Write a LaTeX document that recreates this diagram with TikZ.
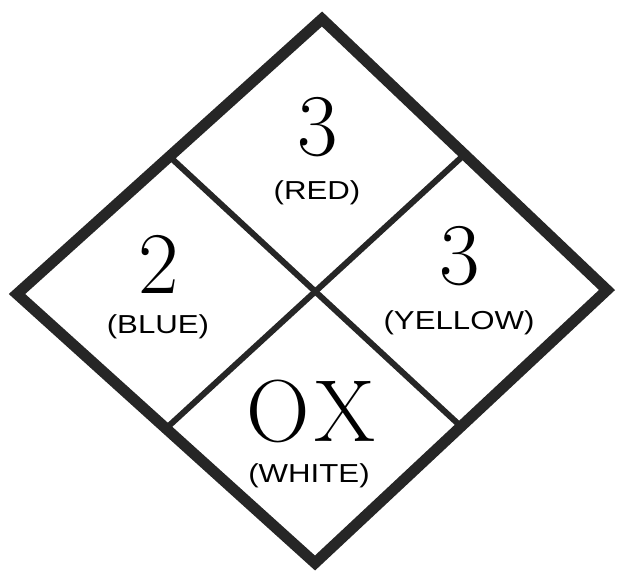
\documentclass[tikz,border=0pt]{standalone}
\usepackage{fontspec}
\usetikzlibrary{calc}
\newfontfamily\labfont[FakeStretch=1.2]{Liberation Sans}
\tikzset{
  outerline/.style={line width=11pt, draw=black!85, line join=miter},
  innerline/.style={line width=6pt, draw=black!85, line cap=butt},
  bignum/.style={inner sep=0pt, font=\fontsize{88}{88}\selectfont},
  colourlab/.style={inner sep=0pt, font=\labfont\fontsize{26}{26}\selectfont}
}
\begin{document}
\begin{tikzpicture}[x=1pt,y=-1pt]
\useasboundingbox (0,0) rectangle (618,576);
\coordinate (T) at (322,19);
\coordinate (L) at (17,294);
\coordinate (R) at (607,290);
\coordinate (B) at (315,563);
\coordinate (TL) at ($(T)!0.5!(L)$);
\coordinate (TR) at ($(T)!0.5!(R)$);
\coordinate (BL) at ($(B)!0.5!(L)$);
\coordinate (BR) at ($(B)!0.5!(R)$);
\draw[innerline] (TL) -- (BR);
\draw[innerline] (TR) -- (BL);
\draw[outerline] (T) -- (R) -- (B) -- (L) -- cycle;
\node[bignum] (n1) at (318,127) {3};
\node[colourlab] (l1) at (317,193) {(RED)};
\node[bignum] (n2) at (159,264) {2};
\node[colourlab] (l2) at (158,327) {(BLUE)};
\node[bignum] (n3) at (460,256) {3};
\node[colourlab] (l3) at (459,323) {(YELLOW)};
\node[bignum] (n4) at (311,411) {O\kern4pt X};
\node[colourlab] (l4) at (309,476) {(WHITE)};
\end{tikzpicture}
\end{document}
